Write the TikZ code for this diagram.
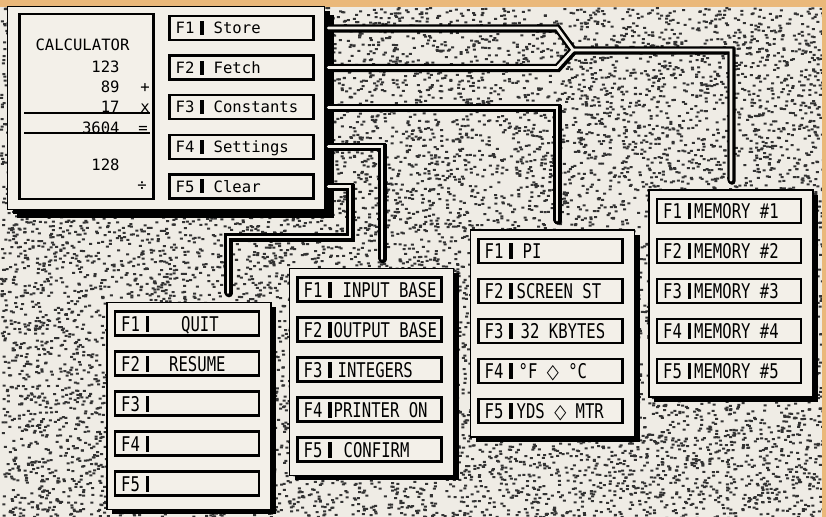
\documentclass[tikz,border=0pt]{standalone}
\usepackage{fontspec}
\usepackage{graphicx}
\setmonofont{DejaVu Sans Mono}
\newfontfamily\shapefont{DejaVu Sans}
\usetikzlibrary{calc,shadows}
\definecolor{paper}{HTML}{F3F0E9}
\definecolor{ground}{HTML}{EFECE5}
\definecolor{band}{HTML}{EAB87A}
\newcommand{\tall}[1]{\scalebox{1}[1.3]{#1}}
\tikzstyle{panel}=[draw,line width=0.8pt,fill=paper,inner sep=0pt,minimum width=82pt,minimum height=103.5pt,drop shadow={fill=black,opacity=1,shadow xshift=2.5pt,shadow yshift=-2.5pt}]
\tikzstyle{key}=[draw,line width=1.2pt,fill=paper,inner sep=0pt,minimum width=72pt,minimum height=12pt]
\tikzstyle{lbl}=[inner sep=0pt,anchor=west,text height=5.7pt,text depth=0pt,font=\ttfamily\fontsize{7.8}{9}\selectfont]
\tikzstyle{tlbl}=[lbl,text height=7.4pt]
\tikzstyle{speck}=[fill=black!80]
\tikzstyle{pipeshade}=[draw=black,line width=3.6pt,line cap=round,transform canvas={xshift=0.5pt,yshift=-0.5pt}]
\tikzstyle{pipeline}=[draw=black,line width=3.6pt,line cap=round]
\tikzstyle{pipecore}=[draw=paper,line width=1.4pt,line cap=round]

\begin{document}
\begin{tikzpicture}[x=0.5pt,y=-0.5pt]
      \useasboundingbox (0,0) rectangle (826,517);
      \fill[ground] (0,0) rectangle (826,517);
      \pgfmathsetseed{42}
      \foreach \j in {1,...,40}{
        \fill[speck] \foreach \i in {1,...,300}{({rnd*826},{7+rnd*510}) rectangle ++(3,2)};
      }
      \fill[band] (0,0) rectangle (826,7);
      \fill[band] (822,0) rectangle (826,517);

      \node[panel,minimum width=158.5pt,minimum height=101.5pt,drop shadow={fill=black,opacity=1,shadow xshift=4.5pt,shadow yshift=-4.5pt}] (calc) at (166,108) {};
      \node[draw,line width=1.2pt,inner sep=0pt,minimum width=67pt,minimum height=92.5pt] (screen) at (86.5,106.5) {};
      \node[lbl,anchor=center] (title) at (82.5,45) {CALCULATOR};
      \foreach \y/\n [count=\i] in {67/123,87/89,107/17,128/3604,165/128}{
        \node[lbl,anchor=east] (n\i) at (120,\y) {\n};
      }
      \foreach \x/\y/\o [count=\i] in {145/87/+,145/107/x,143/128/=,142/185/÷}{
        \node[lbl,anchor=center] (op\i) at (\x,\y) {\o};
      }
      \draw[line width=0.9pt] (24,113) -- (150,113);
      \draw[line width=0.9pt] (24,133) -- (150,133);

      \foreach \y/\t [count=\i] in {28/Store,67.6/Fetch,107.2/Constants,146.8/Settings,186.4/Clear}{
        \node[key] (c\i) at (241.5,\y) {};
        \node[lbl] at ($(c\i.west)+(7,0)$) {F\i};
        \fill ($(c\i.west)+(32,-7)$) rectangle +(3.5,14);
        \node[lbl] at ($(c\i.west)+(45,0)$) {\t};
      }
      \coordinate (rim) at ([xshift=1.5pt]calc.east);

      \node[panel] (quit) at (189,406) {};
      \foreach \d/\t [count=\i] in {30/QUIT,18/RESUME,0/{},0/{},0/{}}{
        \node[key] (q\i) at ($(quit.north)+(-2,{22+40*(\i-1)})$) {};
        \node[tlbl] at ($(q\i.west)+(7,0)$) {\tall{F\i}};
        \fill ($(q\i.west)+(32,-8)$) rectangle +(3.5,16);
        \node[tlbl] at ($(q\i.west)+(37+\d,0)$) {\tall{\t}};
      }

      \node[panel] (setup) at (371.5,372) {};
      \foreach \d/\t [count=\i] in {9/INPUT BASE,0/OUTPUT BASE,4/INTEGERS,0/PRINTER ON,10/CONFIRM}{
        \node[key] (s\i) at ($(setup.north)+(-2,{22+40*(\i-1)})$) {};
        \node[tlbl] at ($(s\i.west)+(7,0)$) {\tall{F\i}};
        \fill ($(s\i.west)+(32,-8)$) rectangle +(3.5,16);
        \node[tlbl] at ($(s\i.west)+(37+\d,0)$) {\tall{\t}};
      }

      \node[panel] (consts) at (552.5,333.5) {};
      \foreach \d/\t [count=\i] in {8/PI,2/SCREEN ST,6/32 KBYTES,4/{°F {\shapefont ◇} °C},2/{YDS {\shapefont ◇} MTR}}{
        \node[key] (k\i) at ($(consts.north)+(-2,{22+40*(\i-1)})$) {};
        \node[tlbl] at ($(k\i.west)+(7,0)$) {\tall{F\i}};
        \fill ($(k\i.west)+(32,-8)$) rectangle +(3.5,16);
        \node[tlbl] at ($(k\i.west)+(37+\d,0)$) {\tall{\t}};
      }

      \node[panel] (mem) at (731,293.5) {};
      \foreach \i in {1,...,5}{
        \node[key] (m\i) at ($(mem.north)+(-2,{22+40*(\i-1)})$) {};
        \node[tlbl] at ($(m\i.west)+(7,0)$) {\tall{F\i}};
        \fill ($(m\i.west)+(32,-8)$) rectangle +(3.5,16);
        \node[tlbl] at ($(m\i.west)+(38,0)$) {\tall{MEMORY \#\i}};
      }

      \coordinate (j3) at (557,0);
      \coordinate (j4) at (382,0);
      \coordinate (j5) at (350,0);
      \coordinate (fork) at (573,50);
      \coordinate (elbow) at (228,237);
      \foreach \s in {pipeshade,pipeline,pipecore}{
        \path[\s] (rim|-c1) -- (j3|-c1) -- (fork) -- (mem.north|-fork) -- ($(mem.north)+(0,-9)$);
        \path[\s] (rim|-c2) -- (j3|-c2) -- (fork);
        \path[\s] (rim|-c3) -- (j3|-c3) -- ($(j3|-consts.north)+(0,-9)$);
        \path[\s] (rim|-c4) -- (j4|-c4) -- ($(j4|-setup.north)+(0,-9)$);
        \path[\s] (rim|-c5) -- (j5|-c5) -- (j5|-elbow) -- (elbow) -- ($(elbow|-quit.north)+(0,-9)$);
      }

    \end{tikzpicture}
\end{document}
